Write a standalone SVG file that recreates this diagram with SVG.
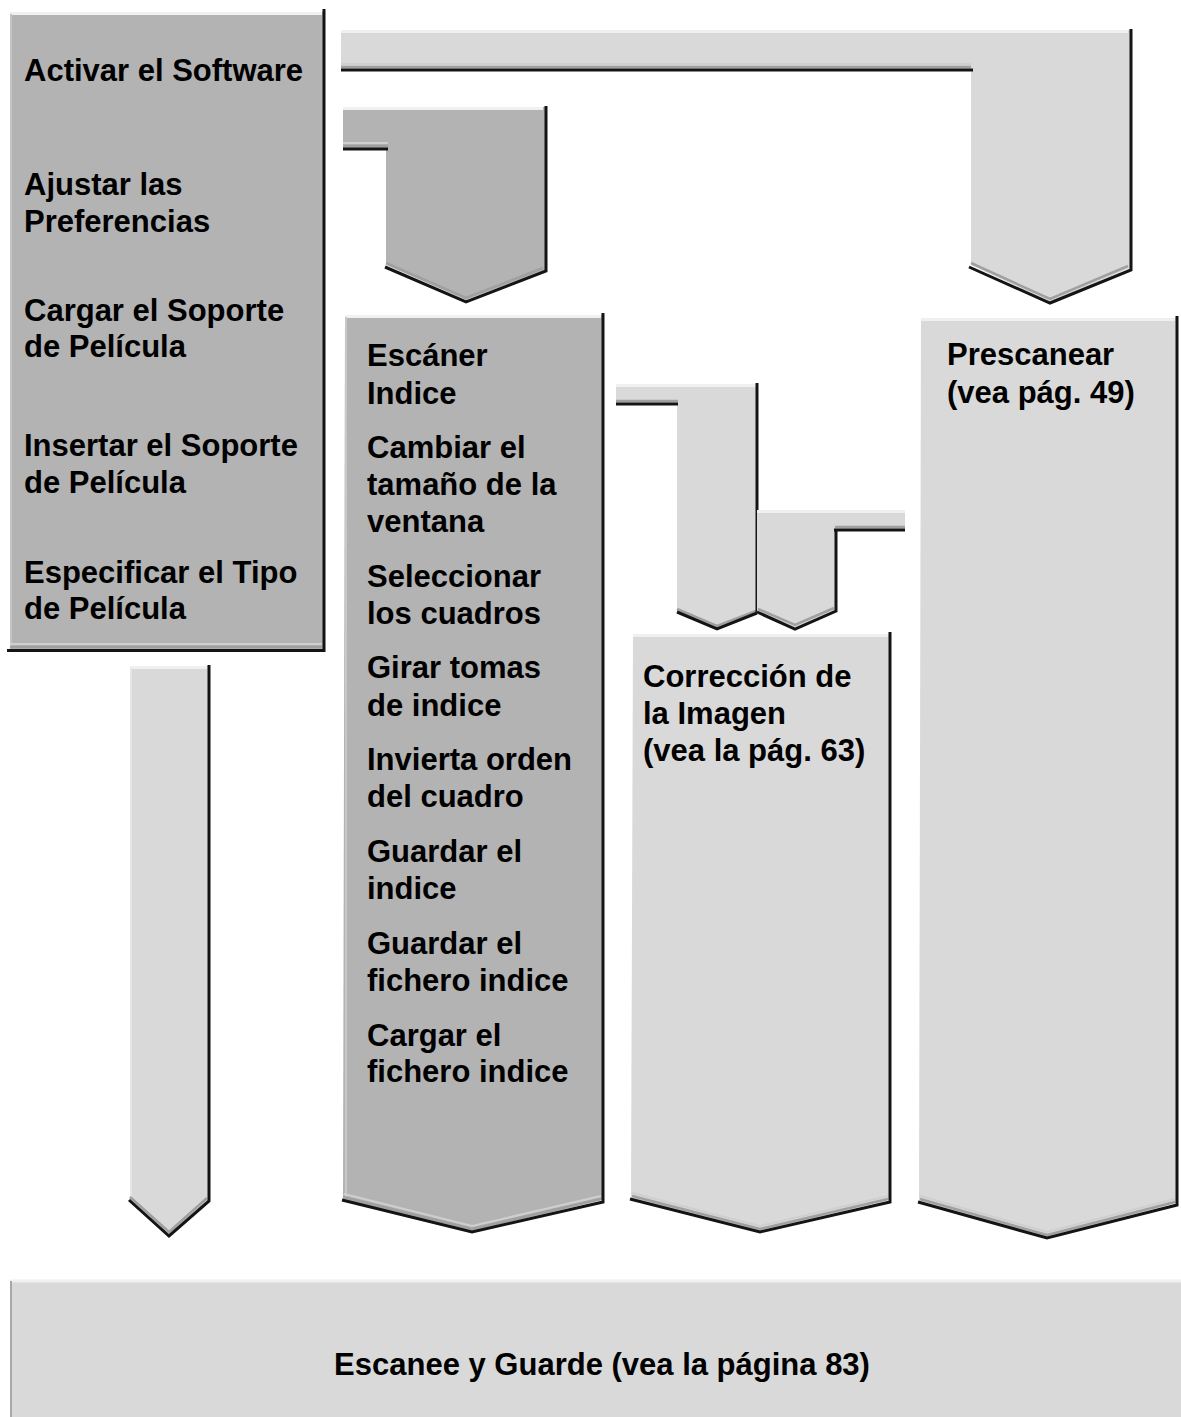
<svg xmlns="http://www.w3.org/2000/svg" width="1181" height="1417" viewBox="0 0 1181 1417">
<style>
.dk{fill:#b3b3b3}
.lt{fill:#d9d9d9}
.hl{stroke:#f0f0f0;stroke-width:3;fill:none}
.sh{stroke:#141414;stroke-width:3;fill:none;stroke-linejoin:miter}
.bev{stroke:#a0a0a0;stroke-width:2.5;fill:none}
.bev2{stroke:#cfcfcf;stroke-width:2;fill:none}
.t{font-family:"Liberation Sans",Arial,Helvetica,sans-serif;font-weight:bold;font-size:31px;fill:#000}
</style>
<rect width="1181" height="1417" fill="#ffffff"/>

<g id="connectors">
  <g id="conn-activar-prescanear">
    <polygon class="lt" points="341,30 1130,30 1130,268 1050,302 971,265 971,70 341,70"/>
    <line class="hl" x1="341" y1="31.5" x2="1128" y2="31.5"/>
    <line class="bev2" x1="341" y1="64" x2="971" y2="64"/>
    <line class="bev" x1="341" y1="67" x2="971" y2="67"/>
    <line class="sh" x1="341" y1="70" x2="973" y2="70"/>
    <polyline class="bev" points="971,263 1050,299 1128,266"/>
    <polyline class="sh" points="969,267 1050,303 1131,270 1131,29"/>
  </g>
  <g id="conn-ajustar-escaner">
    <polygon class="dk" points="343,107 545,107 545,270 466,300 386,265 386,150 343,150"/>
    <line class="hl" x1="343" y1="108.5" x2="543" y2="108.5"/>
    <line class="bev2" x1="343" y1="143" x2="388" y2="143"/>
    <line class="bev" x1="343" y1="146" x2="388" y2="146"/>
    <line class="sh" x1="343" y1="149" x2="388" y2="149"/>
    <polyline class="bev" points="386,263 466,298 543,268"/>
    <polyline class="sh" points="385,267 466,302 546,271 546,106"/>
  </g>
  <g id="conn-escaner-correccion">
    <polygon class="lt" points="616,384 757,384 757,612 717,628 677,611 677,405 616,405"/>
    <line class="hl" x1="616" y1="385.5" x2="756" y2="385.5"/>
    <line class="bev" x1="616" y1="401" x2="678" y2="401"/>
    <line class="sh" x1="616" y1="404" x2="678" y2="404"/>
    <polyline class="bev" points="677,609 717,626 756,611"/>
    <polyline class="sh" points="677,612 717,629 757,613"/>
    <line class="sh" x1="757" y1="383" x2="757" y2="612"/>
  </g>
  <g id="conn-prescanear-correccion">
    <polygon class="lt" points="757,510 905,510 905,531 835,531 835,610 795,628 757,612"/>
    <line class="hl" x1="757" y1="511.5" x2="905" y2="511.5"/>
    <line class="bev" x1="835" y1="527" x2="905" y2="527"/>
    <line class="sh" x1="834" y1="530" x2="905" y2="530"/>
    <polyline class="bev" points="758,609 795,625 834,608"/>
    <polyline class="sh" points="757,612 795,629 836,611 836,529"/>
  </g>
  <g id="conn-inicio-escanee">
    <polygon class="lt" points="130,666 208,666 208,1200 169,1235 130,1200"/>
    <line class="hl" x1="130" y1="667.5" x2="207" y2="667.5"/>
    <line x1="131" y1="668" x2="131" y2="1198" stroke="#e6e6e6" stroke-width="2"/>
    <polyline class="bev" points="130,1197 169,1232 207,1198"/>
    <polyline class="sh" points="129,1200 169,1236 209,1201 209,665"/>
  </g>
</g>

<g id="node-preparacion">
  <rect class="dk" x="10" y="12" width="313" height="637"/>
  <line class="hl" x1="10" y1="13.5" x2="322" y2="13.5"/>
  <line x1="11" y1="14" x2="11" y2="646" stroke="#c4c4c4" stroke-width="2"/>
  <line class="bev2" x1="10" y1="644" x2="322" y2="644"/>
  <line class="bev" x1="10" y1="647" x2="322" y2="647"/>
  <line class="sh" x1="7" y1="650.5" x2="325" y2="650.5"/>
  <line class="sh" x1="324" y1="9" x2="324" y2="652"/>
  <text class="t" x="24" y="81">Activar el Software</text>
  <text class="t" x="24" y="195">Ajustar las</text>
  <text class="t" x="24" y="232">Preferencias</text>
  <text class="t" x="24" y="321">Cargar el Soporte</text>
  <text class="t" x="24" y="357">de Película</text>
  <text class="t" x="24" y="456">Insertar el Soporte</text>
  <text class="t" x="24" y="493">de Película</text>
  <text class="t" x="24" y="583">Especificar el Tipo</text>
  <text class="t" x="24" y="619">de Película</text>
</g>

<g id="node-escaner-indice">
  <polygon class="dk" points="345,315 602,315 602,1200 472,1231 343,1199"/>
  <line class="hl" x1="345" y1="316.5" x2="601" y2="316.5"/>
  <line x1="346" y1="317" x2="346" y2="1197" stroke="#c8c8c8" stroke-width="2"/>
  <polyline class="bev2" points="344,1194 472,1226 601,1196"/>
  <polyline class="bev" points="343,1197 472,1229 601,1199"/>
  <polyline class="sh" points="342,1200 472,1232 603,1202 603,313"/>
  <text class="t" x="367" y="366">Escáner</text>
  <text class="t" x="367" y="404">Indice</text>
  <text class="t" x="367" y="458">Cambiar el</text>
  <text class="t" x="367" y="495">tamaño de la</text>
  <text class="t" x="367" y="532">ventana</text>
  <text class="t" x="367" y="587">Seleccionar</text>
  <text class="t" x="367" y="624">los cuadros</text>
  <text class="t" x="367" y="678">Girar tomas</text>
  <text class="t" x="367" y="716">de indice</text>
  <text class="t" x="367" y="770">Invierta orden</text>
  <text class="t" x="367" y="807">del cuadro</text>
  <text class="t" x="367" y="862">Guardar el</text>
  <text class="t" x="367" y="899">indice</text>
  <text class="t" x="367" y="954">Guardar el</text>
  <text class="t" x="367" y="991">fichero indice</text>
  <text class="t" x="367" y="1046">Cargar el</text>
  <text class="t" x="367" y="1082">fichero indice</text>
</g>

<g id="node-correccion">
  <polygon class="lt" points="633,634 889,634 889,1200 760,1231 631,1198"/>
  <line class="hl" x1="633" y1="635.5" x2="888" y2="635.5"/>
  <polyline class="bev2" points="632,1193 760,1226 888,1196"/>
  <polyline class="bev" points="632,1196 760,1229 888,1199"/>
  <polyline class="sh" points="630,1199 760,1232 890,1202 890,632"/>
  <text class="t" x="643" y="687">Corrección de</text>
  <text class="t" x="643" y="724">la Imagen</text>
  <text class="t" x="643" y="761">(vea la pág. 63)</text>
</g>

<g id="node-prescanear">
  <polygon class="lt" points="921,318 1176,318 1176,1203 1047,1237 919,1201"/>
  <line class="hl" x1="921" y1="319.5" x2="1175" y2="319.5"/>
  <polyline class="bev2" points="920,1196 1047,1232 1175,1199"/>
  <polyline class="bev" points="920,1199 1047,1235 1175,1202"/>
  <polyline class="sh" points="918,1202 1047,1238 1177,1205 1177,316"/>
  <text class="t" x="947" y="365">Prescanear</text>
  <text class="t" x="947" y="403">(vea pág. 49)</text>
</g>

<g id="node-escanee-guarde">
  <rect class="lt" x="10" y="1280" width="1171" height="137"/>
  <line class="hl" x1="10" y1="1281" x2="1181" y2="1281"/>
  <line x1="11" y1="1281" x2="11" y2="1417" stroke="#a8a8a8" stroke-width="2"/>
  <text class="t" x="602" y="1375" text-anchor="middle">Escanee y Guarde (vea la página 83)</text>
</g>
</svg>
